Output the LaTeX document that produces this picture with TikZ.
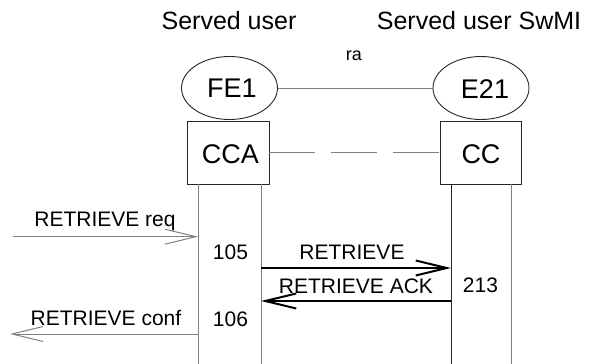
\documentclass[tikz,border=0pt]{standalone}
\usepackage{fontspec}
\setmainfont{Liberation Sans}
\usetikzlibrary{shapes.geometric,arrows.meta}
\definecolor{lg}{RGB}{128,128,128}
\tikzset{
  fe/.style={draw=black!85,line width=0.9pt,ellipse,minimum width=96pt,minimum height=63pt,inner sep=0pt},
  fbox/.style={draw=black!85,line width=0.9pt,rectangle,minimum width=82pt,minimum height=63pt,inner sep=0pt},
  big/.style={font=\fontsize{27}{30}\selectfont},
  head/.style={font=\fontsize{25}{30}\selectfont,anchor=base},
  msg/.style={font=\fontsize{21}{25}\selectfont,anchor=base,inner sep=0pt},
  life/.style={draw=lg,line width=1pt},
  ext/.style={draw=lg,line width=1pt,-{Straight Barb[length=31pt,width=15pt]}},
  intm/.style={draw=black,line width=2pt,-{Straight Barb[length=31pt,width=15pt]}},
}
\begin{document}
\begin{tikzpicture}[x=1pt,y=-1pt]
\useasboundingbox (0,0) rectangle (590,364);
% headers
\node[head] (h1) at (229,29.5) {Served user};
\node[head] (h2) at (479,29.5) {Served user SwMI};
\node[font=\fontsize{18}{20}\selectfont,anchor=base] (ra) at (354,60) {ra};
% entities
\node[fe] (fe1) at (229.5,88) {};
\node[big,anchor=base] (fe1t) at (232,97.5) {FE1};
\node[fe] (e21) at (481,88) {};
\node[big,anchor=base] (e21t) at (485,98) {E21};
\draw[draw=lg,line width=1pt] (fe1) -- (e21);
\node[fbox] (cca) at (228,152.5) {};
\node[big,anchor=base] (ccat) at (230.5,163) {CCA};
\node[fbox,minimum width=81pt] (cc) at (480.5,152.5) {};
\node[big,anchor=base] (cct) at (481,163) {CC};
\draw[draw=lg,line width=1pt,dash pattern=on 46pt off 16pt] (cca.east) -- (cc.west);
% lifelines
\coordinate (a1) at (198,184);
\coordinate (a2) at (261,184);
\coordinate (b1) at (451,184);
\coordinate (b2) at (511,184);
\coordinate (a1e) at (198,364);
\coordinate (a2e) at (261,364);
\coordinate (b1e) at (451,364);
\coordinate (b2e) at (511,364);
\draw[life] (a1) -- (a1e);
\draw[life] (a2) -- (a2e);
\draw[draw=black!85,line width=1pt] (b1) -- (b1e);
\draw[life] (b2) -- (b2e);
% messages
\coordinate (rq0) at (13,236.7);
\coordinate (rq1) at (198,236.7);
\draw[ext] (rq0) -- (rq1);
\node[msg] (rql) at (105,226.3) {RETRIEVE req};
\node[msg] (n105) at (230.5,259.5) {105};
\coordinate (r0) at (261,268);
\coordinate (r1) at (451,268);
\draw[intm] (r0) -- (r1);
\node[msg] (rl) at (352,259) {RETRIEVE};
\coordinate (k0) at (451,301);
\coordinate (k1) at (261,301);
\draw[intm] (k0) -- (k1);
\node[msg] (kl) at (356,293) {RETRIEVE ACK};
\node[msg] (n213) at (480.5,292.5) {213};
\node[msg] (n106) at (230.5,326) {106};
\coordinate (c0) at (198,334);
\coordinate (c1) at (10,334);
\draw[ext] (c0) -- (c1);
\node[msg] (cl) at (106,325.5) {RETRIEVE conf};
\end{tikzpicture}
\end{document}
